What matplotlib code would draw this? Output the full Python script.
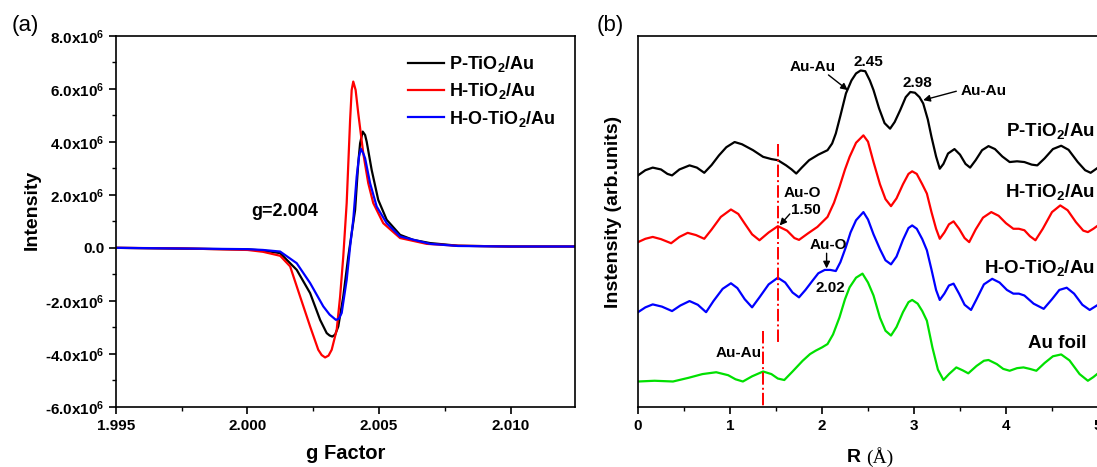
import matplotlib
matplotlib.use("Agg")
import matplotlib.pyplot as plt
from matplotlib.ticker import FuncFormatter, MultipleLocator

plt.rcParams['font.family'] = ['Liberation Sans', 'DejaVu Sans']
plt.rcParams['font.weight'] = 'bold'
plt.rcParams['mathtext.fontset'] = 'custom'
plt.rcParams['mathtext.bf'] = 'Liberation Sans:bold'
plt.rcParams['mathtext.rm'] = 'Liberation Sans:bold'
plt.rcParams['mathtext.default'] = 'bf'

# ---------------- (a) EPR data, intensity in units of 1e6 ----------------
g_p = [1.9950, 2.0000, 2.00059, 2.00124, 2.00187, 2.00238, 2.00276, 2.00301, 2.00312,
       2.00322, 2.00333, 2.00345, 2.00364, 2.00383, 2.00409, 2.00421, 2.00428, 2.00438,
       2.00447, 2.00453, 2.00472, 2.00497, 2.00529, 2.00580, 2.00630, 2.00694, 2.0080,
       2.0100, 2.0125]
i_p = [0.0, -0.06, -0.10, -0.20, -0.83, -1.71, -2.72, -3.22, -3.31,
       -3.35, -3.28, -2.97, -1.84, -0.33, 1.43, 3.20, 3.95, 4.39,
       4.26, 4.01, 2.94, 1.81, 1.06, 0.49, 0.30, 0.18, 0.08,
       0.05, 0.05]

g_h = [1.9950, 1.9975, 2.0000, 2.00059, 2.00124, 2.00162, 2.00200, 2.00238, 2.00269,
       2.00282, 2.00295, 2.00308, 2.00320, 2.00339, 2.00352, 2.00364, 2.00377, 2.00390,
       2.00396, 2.00402, 2.00411, 2.00421, 2.00440, 2.00459, 2.00478, 2.00516, 2.00580,
       2.00681, 2.0080, 2.0100, 2.0125]
i_h = [0.0, -0.02, -0.08, -0.15, -0.30, -0.70, -1.84, -2.97, -3.85,
       -4.05, -4.14, -4.07, -3.85, -3.10, -1.84, -0.33, 1.69, 4.83,
       5.96, 6.28, 5.96, 5.08, 3.57, 2.44, 1.69, 0.93, 0.37,
       0.15, 0.08, 0.05, 0.05]

g_ho = [1.9950, 2.0000, 2.00059, 2.00124, 2.00187, 2.00238, 2.00288, 2.00312, 2.00336,
        2.00347, 2.00358, 2.00377, 2.00390, 2.00402, 2.00415, 2.00424, 2.00431, 2.00440,
        2.00447, 2.00466, 2.00491, 2.00529, 2.00580, 2.00694, 2.0080, 2.0100, 2.0125]
i_ho = [0.0, -0.05, -0.08, -0.14, -0.58, -1.33, -2.21, -2.52, -2.72,
        -2.68, -2.46, -1.21, 0.05, 1.06, 2.69, 3.45, 3.74, 3.57,
        3.38, 2.44, 1.56, 0.93, 0.43, 0.15, 0.07, 0.05, 0.05]

# ---------------- (b) EXAFS FT data (offset curves, arb. units) ----------------
r_p = [0.00, 0.08, 0.16, 0.25, 0.32, 0.37, 0.45, 0.56, 0.64, 0.72, 0.80, 0.88, 0.96, 1.05,
       1.13, 1.25, 1.36, 1.45, 1.52, 1.61, 1.67, 1.72, 1.78, 1.86, 1.96, 2.06, 2.11, 2.15,
       2.20, 2.26, 2.32, 2.37, 2.42, 2.47, 2.52, 2.56, 2.62, 2.68, 2.74, 2.79, 2.85, 2.91,
       2.96, 3.01, 3.06, 3.10, 3.15, 3.19, 3.24, 3.28, 3.32, 3.37, 3.44, 3.50, 3.56, 3.61,
       3.67, 3.74, 3.81, 3.88, 3.96, 4.04, 4.12, 4.20, 4.28, 4.34, 4.42, 4.51, 4.60, 4.68,
       4.78, 4.86, 4.92, 5.00]
v_p = [6.24, 6.38, 6.45, 6.40, 6.28, 6.24, 6.40, 6.51, 6.45, 6.31, 6.52, 6.78, 7.00, 7.14,
       7.08, 6.92, 6.74, 6.68, 6.65, 6.51, 6.40, 6.29, 6.45, 6.65, 6.80, 6.92, 7.10, 7.37,
       7.85, 8.45, 8.80, 8.99, 9.07, 9.05, 8.80, 8.54, 8.05, 7.65, 7.50, 7.68, 8.00, 8.35,
       8.49, 8.47, 8.35, 8.18, 7.75, 7.28, 6.75, 6.42, 6.55, 6.83, 6.95, 6.80, 6.55, 6.45,
       6.65, 6.92, 7.03, 6.95, 6.75, 6.60, 6.62, 6.60, 6.53, 6.51, 6.70, 6.95, 7.04, 6.93,
       6.60, 6.38, 6.31, 6.45]

r_h = [0.00, 0.08, 0.16, 0.25, 0.36, 0.45, 0.54, 0.63, 0.72, 0.80, 0.90, 1.01, 1.09, 1.16,
       1.24, 1.32, 1.42, 1.52, 1.62, 1.70, 1.75, 1.85, 1.95, 2.06, 2.13, 2.19, 2.25, 2.30,
       2.37, 2.45, 2.50, 2.56, 2.63, 2.69, 2.75, 2.81, 2.88, 2.94, 2.98, 3.03, 3.09, 3.14,
       3.19, 3.24, 3.28, 3.33, 3.38, 3.43, 3.49, 3.55, 3.60, 3.67, 3.75, 3.84, 3.92, 4.00,
       4.08, 4.14, 4.20, 4.26, 4.32, 4.40, 4.50, 4.59, 4.67, 4.76, 4.84, 4.89, 4.95, 5.00]
v_h = [4.44, 4.53, 4.58, 4.52, 4.41, 4.58, 4.69, 4.63, 4.53, 4.78, 5.12, 5.32, 5.20, 4.94,
       4.65, 4.49, 4.70, 4.87, 4.75, 4.55, 4.50, 4.68, 4.85, 5.12, 5.50, 5.93, 6.40, 6.74,
       7.12, 7.32, 7.15, 6.60, 6.00, 5.60, 5.41, 5.62, 6.00, 6.28, 6.35, 6.28, 6.00, 5.75,
       5.25, 4.80, 4.53, 4.70, 4.92, 5.00, 4.80, 4.55, 4.44, 4.78, 5.10, 5.25, 5.15, 4.95,
       4.80, 4.80, 4.76, 4.60, 4.49, 4.80, 5.25, 5.43, 5.30, 4.98, 4.75, 4.71, 4.80, 4.89]

r_ho = [0.00, 0.08, 0.16, 0.26, 0.37, 0.46, 0.56, 0.65, 0.74, 0.82, 0.92, 1.01, 1.08, 1.16,
        1.24, 1.32, 1.42, 1.52, 1.60, 1.68, 1.75, 1.82, 1.90, 1.96, 2.03, 2.09, 2.15, 2.20,
        2.26, 2.31, 2.37, 2.45, 2.50, 2.56, 2.63, 2.69, 2.75, 2.81, 2.88, 2.94, 2.98, 3.03,
        3.09, 3.14, 3.19, 3.24, 3.28, 3.33, 3.38, 3.43, 3.49, 3.55, 3.62, 3.68, 3.76, 3.85,
        3.93, 4.01, 4.08, 4.14, 4.20, 4.30, 4.41, 4.50, 4.58, 4.66, 4.74, 4.83, 4.91, 5.00]
v_ho = [2.55, 2.68, 2.76, 2.70, 2.58, 2.73, 2.85, 2.75, 2.55, 2.85, 3.18, 3.33, 3.20, 2.90,
        2.68, 2.95, 3.30, 3.48, 3.35, 3.08, 2.95, 3.15, 3.41, 3.60, 3.69, 3.69, 3.66, 3.90,
        4.31, 4.70, 5.03, 5.25, 5.05, 4.65, 4.25, 3.95, 3.84, 4.05, 4.50, 4.82, 4.89, 4.80,
        4.52, 4.22, 3.70, 3.15, 2.88, 3.05, 3.27, 3.32, 3.05, 2.75, 2.61, 2.90, 3.30, 3.45,
        3.35, 3.15, 3.05, 3.05, 3.00, 2.78, 2.64, 2.90, 3.15, 3.21, 3.05, 2.75, 2.61, 2.75]

r_foil = [0.00, 0.18, 0.38, 0.55, 0.70, 0.85, 0.98, 1.06, 1.14, 1.24, 1.36, 1.45, 1.52, 1.59,
          1.68, 1.79, 1.87, 1.93, 2.00, 2.06, 2.12, 2.19, 2.25, 2.30, 2.37, 2.44, 2.50, 2.56,
          2.63, 2.69, 2.75, 2.81, 2.88, 2.94, 2.98, 3.04, 3.09, 3.14, 3.20, 3.26, 3.32, 3.38,
          3.46, 3.53, 3.59, 3.68, 3.76, 3.81, 3.90, 3.97, 4.04, 4.12, 4.19, 4.26, 4.33, 4.42,
          4.51, 4.60, 4.69, 4.80, 4.89, 4.95, 5.00]
v_foil = [0.68, 0.70, 0.68, 0.78, 0.88, 0.93, 0.85, 0.74, 0.68, 0.82, 0.95, 0.88, 0.76, 0.72,
          0.95, 1.24, 1.42, 1.51, 1.60, 1.69, 1.95, 2.41, 2.90, 3.22, 3.48, 3.59, 3.35, 3.00,
          2.40, 2.05, 1.92, 2.15, 2.55, 2.82, 2.88, 2.78, 2.58, 2.32, 1.60, 1.00, 0.72, 0.88,
          1.06, 0.98, 0.90, 1.10, 1.24, 1.26, 1.15, 1.02, 0.97, 1.04, 1.06, 1.02, 0.97, 1.18,
          1.36, 1.41, 1.25, 0.88, 0.70, 0.80, 0.90]

labels = ['P-TiO$_2$/Au', 'H-TiO$_2$/Au', 'H-O-TiO$_2$/Au']
colors = ['black', '#ff0000', '#0000ff']
green = '#00e000'

fig = plt.figure(figsize=(10.97, 4.67), dpi=100)
ax1 = fig.add_axes([0.1057, 0.1291, 0.4185, 0.7938])
ax2 = fig.add_axes([0.5816, 0.1291, 0.4193, 0.7938])

for ax in (ax1, ax2):
    for s in ax.spines.values():
        s.set_linewidth(1.2)
    ax.tick_params(direction='out', width=1.2, length=5, labelsize=11)
    ax.tick_params(which='minor', direction='out', width=1.0, length=3)

# ---- panel (a)
for g, i, c, lab in zip([g_p, g_h, g_ho], [i_p, i_h, i_ho], colors, labels):
    ax1.plot(g, [v * 1e6 for v in i], color=c, lw=1.6, label=lab)

ax1.set_xlim(1.995, 2.01245)
ax1.set_ylim(-6e6, 8e6)
ax1.set_xticks([1.995, 2.000, 2.005, 2.010])
ax1.set_xticklabels(['1.995', '2.000', '2.005', '2.010'])
ax1.xaxis.set_minor_locator(MultipleLocator(0.0025))
ax1.set_yticks([-6e6, -4e6, -2e6, 0, 2e6, 4e6, 6e6, 8e6])
ax1.yaxis.set_minor_locator(MultipleLocator(1e6))
ax1.yaxis.set_major_formatter(FuncFormatter(
    lambda v, p: '0.0' if abs(v) < 1 else '%.1fx10$^6$' % (v / 1e6)))
ax1.set_xlabel('g Factor', fontsize=14.5, fontweight='bold', labelpad=8)
ax1.set_ylabel('Intensity', fontsize=14, fontweight='bold')
ax1.yaxis.set_label_coords(-0.163, 0.53)
ax1.text(2.00143, 1.36e6, 'g=2.004', fontsize=13, fontweight='bold', ha='center', va='center')
ax1.legend(loc='upper left', bbox_to_anchor=(0.6, 0.995), frameon=False, fontsize=13,
           handlelength=2.0, handletextpad=0.3, labelspacing=0.4)
fig.text(0.023, 0.945, '(a)', fontsize=16, fontweight='normal', ha='center', va='center')

# ---- panel (b)
for r, v, c in zip([r_p, r_h, r_ho, r_foil], [v_p, v_h, v_ho, v_foil], colors + [green]):
    ax2.plot(r, v, color=c, lw=1.6)

ax2.set_xlim(0, 5)
ax2.set_ylim(0, 10)
ax2.set_xticks([0, 1, 2, 3, 4, 5])
ax2.xaxis.set_minor_locator(MultipleLocator(0.5))
ax2.set_yticks([])
ax2.set_ylabel('Instensity (arb.units)', fontsize=14, fontweight='bold')
ax2.yaxis.set_label_coords(-0.035, 0.525)
ax2.text(0.454, -0.136, 'R', transform=ax2.transAxes, fontsize=14, fontweight='bold',
         ha='left', va='center')
ax2.text(0.497, -0.136, '(Å)', transform=ax2.transAxes, fontsize=14, fontweight='normal',
         family='Liberation Serif', ha='left', va='center')
fig.text(0.556, 0.945, '(b)', fontsize=16, fontweight='normal', ha='center', va='center')

# reference lines
ax2.plot([1.52, 1.52], [7.1, 1.74], color='#ff0000', lw=1.4, ls='-.')
ax2.plot([1.36, 1.36], [2.05, 0.0], color='#ff0000', lw=1.4, ls='-.')

arw = dict(arrowstyle='-|>', color='black', lw=1.0, mutation_scale=10, shrinkA=0, shrinkB=0)
bold11 = dict(fontsize=11, fontweight='bold', ha='center', va='center')
ax2.text(1.90, 9.16, 'Au-Au', **bold11)
ax2.annotate('', xy=(2.28, 8.54), xytext=(2.07, 8.95), arrowprops=arw)
ax2.text(2.50, 9.30, '2.45', **bold11)
ax2.text(3.04, 8.73, '2.98', **bold11)
ax2.text(3.76, 8.51, 'Au-Au', **bold11)
ax2.annotate('', xy=(3.10, 8.27), xytext=(3.46, 8.51), arrowprops=arw)
ax2.text(1.79, 5.76, 'Au-O', **bold11)
ax2.text(1.83, 5.30, '1.50', **bold11)
ax2.annotate('', xy=(1.54, 4.89), xytext=(1.65, 5.20), arrowprops=arw)
ax2.text(2.07, 4.35, 'Au-O', **bold11)
ax2.annotate('', xy=(2.05, 3.73), xytext=(2.05, 4.14), arrowprops=arw)
ax2.text(2.09, 3.19, '2.02', **bold11)
ax2.text(1.09, 1.46, 'Au-Au', **bold11)

ax2.text(4.97, 7.43, labels[0], fontsize=13.5, fontweight='bold', ha='right', va='center')
ax2.text(4.97, 5.78, labels[1], fontsize=13.5, fontweight='bold', ha='right', va='center')
ax2.text(4.97, 3.73, labels[2], fontsize=13.5, fontweight='bold', ha='right', va='center')
ax2.text(4.88, 1.70, 'Au foil', fontsize=13.5, fontweight='bold', ha='right', va='center')

fig.savefig('out.png', dpi=100)
